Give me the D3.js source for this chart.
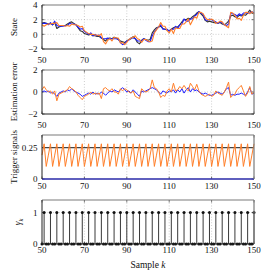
<!DOCTYPE html>
<html><head><meta charset="utf-8">
<script src="https://cdn.jsdelivr.net/npm/d3@7"></script>
<style>body{margin:0;background:#fff}svg{display:block}text{font-family:"Liberation Serif","DejaVu Serif",serif;}</style>
</head><body><svg id="c" width="262" height="275"></svg>
<script>
const samples = d3.range(50, 151);
const xTicks = [50, 70, 90, 110, 130, 150];
const stateTrue = [1.5,1.6,1.5,1.4,1.5,1.3,1.6,0.8,1.0,1.1,
 1.2,1.2,1.4,1.6,1.7,1.5,1.3,0.9,0.5,0.4,
 0.1,0.0,-0.1,0.0,-0.2,-0.2,-0.3,-0.3,-0.5,-0.7,
 -0.9,-0.6,-0.5,-0.6,-0.4,-0.5,-0.7,-0.9,-1.0,-1.1,
 -0.9,-0.7,-0.6,-0.3,-0.6,-1.1,-1.3,-0.8,-0.6,-0.7,
 -0.8,-0.7,0.2,0.6,0.9,1.0,1.1,0.8,0.7,0.6,
 0.5,0.7,0.9,1.0,1.0,1.3,1.7,2.0,2.0,2.2,
 2.1,2.4,2.6,2.9,3.1,2.8,2.5,1.9,1.7,1.8,
 1.7,1.6,1.6,1.5,1.6,1.4,1.3,1.5,1.8,2.5,
 2.6,2.4,2.3,2.6,2.5,2.7,2.6,2.9,3.3,2.9,2.8];
const stateBlue = [1.5,1.5,1.5,1.3,1.6,1.3,1.8,1.2,1.1,1.1,
 1.1,1.2,1.2,1.5,1.4,1.4,1.3,1.0,0.7,0.8,
 0.4,0.2,0.0,0.2,-0.2,0.0,-0.2,-0.1,-0.5,-0.6,
 -0.6,-0.5,-0.6,-0.6,-0.6,-0.6,-0.7,-1.1,-1.4,-1.3,
 -0.9,-0.8,-0.5,-0.5,-0.6,-0.9,-0.9,-0.9,-0.6,-0.8,
 -1.0,-1.0,-0.2,0.3,0.7,1.0,1.3,0.7,0.7,0.7,
 0.4,0.7,0.7,1.1,0.8,1.3,1.4,2.1,1.8,1.8,
 2.1,2.1,2.5,2.7,3.1,2.9,2.7,2.0,1.9,2.1,
 2.0,1.8,1.7,1.5,1.7,1.6,1.3,1.2,1.4,2.8,
 2.8,2.7,2.5,2.8,2.6,2.9,2.9,2.9,2.9,3.1,2.9];
const stateOrange = [1.3,1.1,1.3,1.4,1.4,1.5,1.5,1.6,1.2,1.2,
 1.2,1.1,1.2,1.1,1.4,1.3,1.3,1.2,1.0,1.1,
 0.5,0.3,0.1,0.0,0.0,-0.1,-0.1,-0.2,0.1,-1.0,
 -1.3,-0.8,-0.6,-0.9,-0.4,-0.5,-0.5,-1.2,-1.1,-1.4,
 -1.1,-0.7,-0.5,-0.4,-0.2,-0.6,-0.7,-1.1,-0.7,-0.7,
 -0.9,-1.0,-0.9,0.2,0.6,1.0,1.6,1.1,1.1,0.5,
 0.2,0.7,0.1,0.9,0.8,0.8,1.4,1.4,1.7,2.1,
 1.3,1.9,2.4,2.2,3.0,3.0,2.8,2.3,2.0,2.0,
 2.1,1.9,1.5,1.6,1.8,1.7,1.3,1.1,0.9,3.0,
 2.9,2.6,2.1,2.2,1.9,2.6,3.0,3.0,2.8,3.1,2.8];
const errBlue = [0.0,0.1,0.0,0.1,-0.1,0.0,-0.2,-0.4,-0.1,0.0,
 0.1,0.0,0.2,0.1,0.3,0.1,0.0,-0.1,-0.2,-0.4,
 -0.3,-0.2,-0.1,-0.2,0.0,-0.2,-0.1,-0.2,0.0,-0.1,
 -0.3,-0.1,0.1,0.0,0.2,0.1,0.0,0.2,0.4,0.2,
 0.0,0.1,-0.1,0.2,0.0,-0.2,-0.4,0.1,0.0,0.1,
 0.2,0.3,0.4,0.3,0.2,0.0,-0.2,0.1,0.0,-0.1,
 0.1,0.0,0.2,-0.1,0.2,0.0,0.3,-0.1,0.2,0.4,
 0.0,0.3,0.1,0.2,0.0,-0.1,-0.2,-0.1,-0.2,-0.3,
 -0.3,-0.2,-0.1,0.0,-0.1,-0.2,0.0,0.3,0.4,-0.3,
 -0.2,-0.3,-0.2,-0.2,-0.1,-0.2,-0.3,0.0,0.4,-0.2,-0.1];
const errOrange = [0.2,0.5,0.2,0.0,0.1,-0.2,0.1,-0.8,-0.2,-0.1,
 0.0,0.1,0.2,0.5,0.3,0.2,0.0,-0.3,-0.5,-0.7,
 -0.4,-0.3,-0.2,0.0,-0.2,-0.1,-0.2,-0.1,-0.6,0.3,
 0.4,0.2,0.1,0.3,0.0,0.0,-0.2,0.3,0.1,0.3,
 0.2,0.0,-0.1,0.1,-0.4,-0.5,-0.6,0.3,0.1,0.0,
 0.1,0.3,1.1,0.4,0.3,0.0,-0.5,-0.3,-0.4,0.1,
 0.3,0.0,0.8,0.1,0.2,0.5,0.3,0.6,0.3,0.1,
 0.8,0.5,0.2,0.7,0.1,-0.2,-0.3,-0.4,-0.3,-0.2,
 -0.4,-0.3,0.1,-0.1,-0.2,-0.3,0.0,0.4,0.9,-0.5,
 -0.3,-0.2,0.2,0.4,0.6,0.1,-0.4,-0.1,0.5,-0.2,0.0];
// trigger signal pattern per sample (period of 3 samples, peak at trigger)
const triggerCycle = [0.19, 0.28, 0.10];
const triggerOrange = samples.map((k, i) => triggerCycle[(k - 50) % 3]);
const triggerBlue = samples.map(() => 0);
const threshold = [0.25];
const gammaK = samples.map(k => ((k - 51) % 3 === 0 ? 1 : 0));

const BLUE = "#1f1fff", ORANGE = "#ff7f2a", BLACK = "#333333";
const svg = d3.select("#c");
const x = d3.scaleLinear().domain([50, 150]).range([42, 254]);

const panels = [
  {top: 5, bottom: 49, dom: [-2, 4], ticks: [-2, 0, 2, 4], fmt: d => d < 0 ? "\u2212" + Math.abs(d) : d, label: "State", lblBase: 63},
  {top: 70, bottom: 114, dom: [-2, 2], ticks: [-2, 0, 2], fmt: d => d < 0 ? "\u2212" + Math.abs(d) : d, label: "Estimation error", lblBase: 128},
  {top: 135, bottom: 179, dom: [0, 0.35], ticks: [0, 0.25], fmt: d => d, label: "Trigger signals", lblBase: 188.5},
  {top: 200, bottom: 244, dom: [0, 1.4], ticks: [0, 1], fmt: d => d, label: "gamma", lblBase: 253}
];

panels.forEach((p, pi) => {
  const y = d3.scaleLinear().domain(p.dom).range([p.bottom, p.top]);
  p.y = y;
  const g = svg.append("g");
  // grid
  xTicks.slice(1, -1).forEach(t => g.append("line").attr("x1", x(t)).attr("x2", x(t)).attr("y1", p.top).attr("y2", p.bottom)
    .attr("stroke", "#9a9a9a").attr("stroke-width", 0.6).attr("stroke-dasharray", "0.8,2"));
  p.ticks.forEach(t => { if (y(t) > p.top + 0.5 && y(t) < p.bottom - 0.5)
    g.append("line").attr("x1", 42).attr("x2", 254).attr("y1", y(t)).attr("y2", y(t))
     .attr("stroke", "#9a9a9a").attr("stroke-width", 0.6).attr("stroke-dasharray", "0.8,2"); });
  // x tick labels
  xTicks.forEach(t => g.append("text").attr("x", x(t)).attr("y", p.lblBase).attr("text-anchor", "middle")
    .attr("font-size", 9).attr("fill", "#111").text(t));
  // y tick labels
  p.ticks.forEach(t => g.append("text").attr("x", 37.5).attr("y", y(t) + 3.2).attr("text-anchor", "end")
    .attr("font-size", 9).attr("fill", "#111").text(p.fmt(t)));
  // ticks inward
  xTicks.forEach(t => {
    g.append("line").attr("x1", x(t)).attr("x2", x(t)).attr("y1", p.bottom).attr("y2", p.bottom - 2.5).attr("stroke", "#222").attr("stroke-width", 0.6);
    g.append("line").attr("x1", x(t)).attr("x2", x(t)).attr("y1", p.top).attr("y2", p.top + 2.5).attr("stroke", "#222").attr("stroke-width", 0.6);
  });
  p.ticks.forEach(t => {
    g.append("line").attr("x1", 42).attr("x2", 44.5).attr("y1", y(t)).attr("y2", y(t)).attr("stroke", "#222").attr("stroke-width", 0.6);
    g.append("line").attr("x1", 254).attr("x2", 251.5).attr("y1", y(t)).attr("y2", y(t)).attr("stroke", "#222").attr("stroke-width", 0.6);
  });
  // y label
  if (p.label === "gamma") {
    const tl = g.append("text").attr("transform", `translate(21,${(p.top + p.bottom) / 2}) rotate(-90)`)
      .attr("text-anchor", "middle").attr("font-size", 9.5).attr("fill", "#111");
    tl.append("tspan").attr("font-style", "italic").text("\u03b3");
    tl.append("tspan").attr("font-style", "italic").attr("font-size", 6.5).attr("dy", 2).text("k");
  } else {
    g.append("text").attr("transform", `translate(17,${(p.top + p.bottom) / 2}) rotate(-90)`)
      .attr("text-anchor", "middle").attr("font-size", 9).attr("fill", "#111").text(p.label);
  }
});

function drawLine(p, data, color, w) {
  const line = d3.line().x((d, i) => x(samples[i])).y(d => p.y(d));
  svg.append("path").attr("d", line(data)).attr("fill", "none").attr("stroke", color)
    .attr("stroke-width", w).attr("stroke-linejoin", "round");
}
// panel 1
drawLine(panels[0], stateTrue, BLACK, 1.1);
drawLine(panels[0], stateBlue, BLUE, 1.1);
drawLine(panels[0], stateOrange, ORANGE, 1.1);
// panel 2
drawLine(panels[1], errBlue, BLUE, 1.0);
drawLine(panels[1], errOrange, ORANGE, 1.0);
// panel 3
threshold.forEach(th => svg.append("line").attr("x1", x(50)).attr("x2", x(150))
  .attr("y1", panels[2].y(th)).attr("y2", panels[2].y(th)).attr("stroke", "#444").attr("stroke-width", 1.3));
drawLine(panels[2], triggerOrange, ORANGE, 1.0);
drawLine(panels[2], triggerBlue, "#2a2aa8", 1.6);
// panel 4 stems
const p4 = panels[3];
svg.append("g").selectAll("line").data(samples).join("line")
  .attr("x1", d => x(d)).attr("x2", d => x(d))
  .attr("y1", p4.y(0)).attr("y2", (d, i) => p4.y(gammaK[i]))
  .attr("stroke", "#222").attr("stroke-width", 0.9);
svg.append("g").selectAll("circle").data(samples).join("circle")
  .attr("cx", d => x(d)).attr("cy", (d, i) => p4.y(gammaK[i])).attr("r", 1.5).attr("fill", "#111");

// frames
panels.forEach(p => {
  svg.append("line").attr("x1", 42).attr("x2", 254).attr("y1", p.top).attr("y2", p.top).attr("stroke", "#7a7a7a").attr("stroke-width", 1.2);
  svg.append("line").attr("x1", 254).attr("x2", 254).attr("y1", p.top).attr("y2", p.bottom).attr("stroke", "#7a7a7a").attr("stroke-width", 1.2);
  svg.append("line").attr("x1", 42).attr("x2", 42).attr("y1", p.top).attr("y2", p.bottom).attr("stroke", "#222").attr("stroke-width", 1);
  if (p !== panels[2]) svg.append("line").attr("x1", 42).attr("x2", 254).attr("y1", p.bottom).attr("y2", p.bottom).attr("stroke", "#222").attr("stroke-width", 1);
});

// x axis title
const xt = svg.append("text").attr("x", 148).attr("y", 268).attr("text-anchor", "middle").attr("font-size", 9.5).attr("fill", "#111");
xt.append("tspan").text("Sample ");
xt.append("tspan").attr("font-style", "italic").text("k");
</script></body></html>
